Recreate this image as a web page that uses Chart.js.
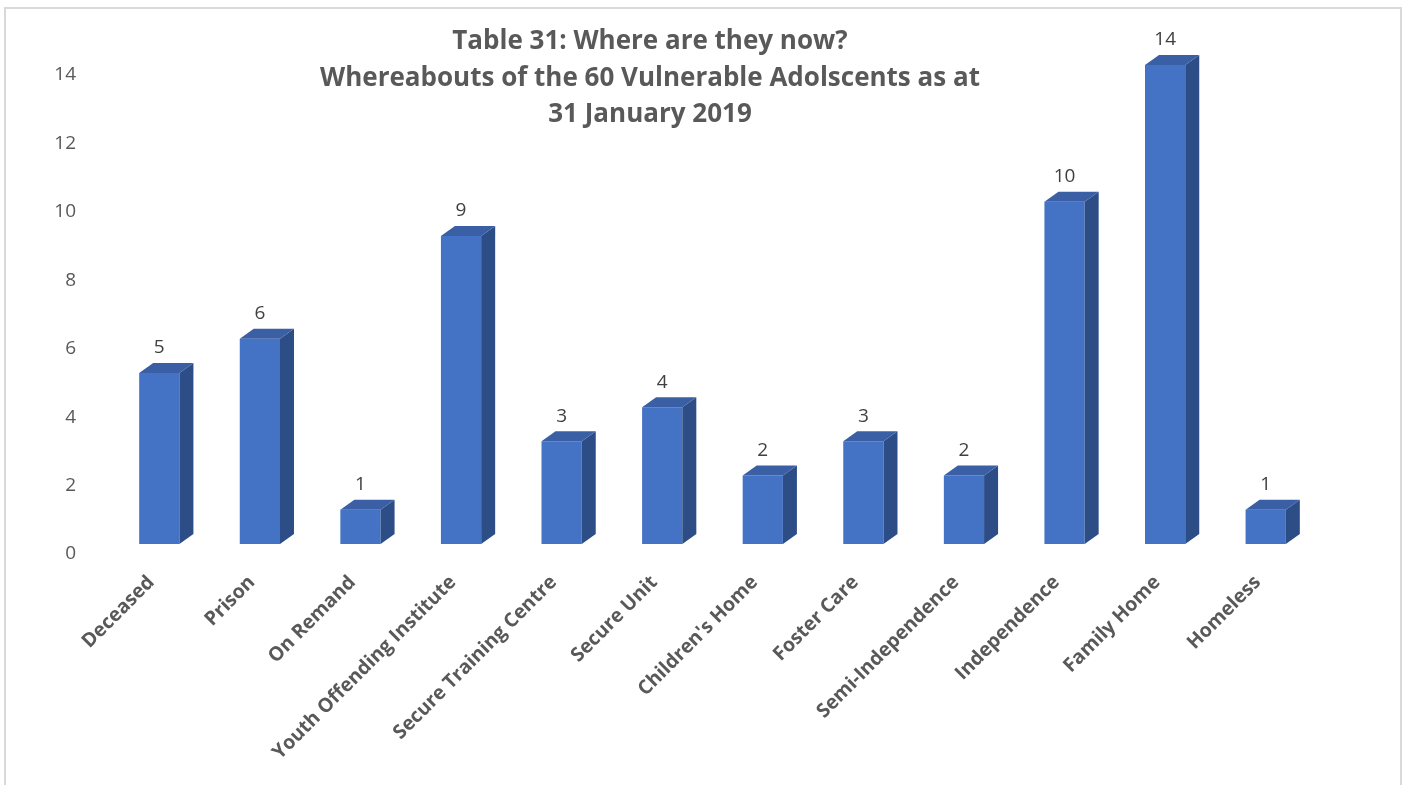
<!DOCTYPE html>
<html>
<head>
<meta charset="utf-8">
<script src="https://cdn.jsdelivr.net/npm/chart.js@4.4.1/dist/chart.umd.min.js"></script>
<style>
  body { margin: 0; background: #fff; }
  #wrap { position: relative; width: 1405px; height: 785px; overflow: hidden; }
  #grafica { position: absolute; left: 0; top: 0; }
  #titulo {
    position: absolute; left: 0; top: 21px; width: 1300px;
    text-align: center; font: bold 26px "Open Sans", sans-serif;
    line-height: 36.5px; color: #595959;
  }
</style>
</head>
<body>
<div id="wrap">
  <canvas id="grafica" width="1405" height="785"></canvas>
  <div id="titulo">Table 31: Where are they now?<br>Whereabouts of the 60 Vulnerable Adolscents as at<br>31 January 2019</div>
</div>
<script>
const categorias = [
  "Deceased",
  "Prison",
  "On Remand",
  "Youth Offending Institute",
  "Secure Training Centre",
  "Secure Unit",
  "Children's Home",
  "Foster Care",
  "Semi-Independence",
  "Independence",
  "Family Home",
  "Homeless",
];
const valores = [5, 6, 1, 9, 3, 4, 2, 3, 2, 10, 14, 1];
const ticksY = [0, 2, 4, 6, 8, 10, 12, 14];

// depth of the fake 3D box drawn behind each bar
const fondo = { dx: 14, dy: 10 };

// light grey frame around the whole chart
const marco = {
  id: "marco",
  beforeDraw(chart) {
    const ctx = chart.ctx;
    ctx.save();
    ctx.strokeStyle = "#D9D9D9";
    ctx.lineWidth = 2;
    ctx.strokeRect(5, 8, 1396, 820);
    ctx.restore();
  },
};

// side + top faces and the value labels
const barras3d = {
  id: "barras3d",
  afterDatasetsDraw(chart) {
    const ctx = chart.ctx;
    const meta = chart.getDatasetMeta(0);
    ctx.save();
    meta.data.forEach((bar, i) => {
      const izq = bar.x - bar.width / 2;
      const der = bar.x + bar.width / 2;
      const arriba = bar.y;
      const abajo = bar.base;

      ctx.fillStyle = "#2D4D86";
      ctx.beginPath();
      ctx.moveTo(der, arriba);
      ctx.lineTo(der + fondo.dx, arriba - fondo.dy);
      ctx.lineTo(der + fondo.dx, abajo - fondo.dy);
      ctx.lineTo(der, abajo);
      ctx.closePath();
      ctx.fill();

      ctx.fillStyle = "#3A5FA4";
      ctx.beginPath();
      ctx.moveTo(izq, arriba);
      ctx.lineTo(izq + fondo.dx, arriba - fondo.dy);
      ctx.lineTo(der + fondo.dx, arriba - fondo.dy);
      ctx.lineTo(der, arriba);
      ctx.closePath();
      ctx.fill();

      ctx.fillStyle = "#404040";
      ctx.font = '19px "Open Sans"';
      ctx.textAlign = "center";
      ctx.textBaseline = "middle";
      ctx.fillText(String(valores[i]), bar.x, arriba - 25);
    });
    ctx.restore();
  },
};

const ctx = document.getElementById("grafica");
const myChart = new Chart(ctx, {
  type: "bar",
  data: {
    labels: categorias,
    datasets: [
      {
        data: valores,
        backgroundColor: "#4472C4",
        borderWidth: 0,
        barPercentage: 0.4,
        categoryPercentage: 1,
      },
    ],
  },
  options: {
    responsive: false,
    devicePixelRatio: 1,
    animation: false,
    layout: {
      padding: { top: 65, right: 89, left: 0, bottom: 0 },
    },
    scales: {
      x: {
        grid: { display: false, drawTicks: false },
        border: { display: false },
        ticks: {
          color: "#595959",
          font: { family: "Open Sans", size: 19.5, weight: "bold" },
          minRotation: 45,
          maxRotation: 45,
          autoSkip: false,
          padding: 27,
          labelOffset: -8,
        },
        afterFit: (s) => {
          s.height = 241;
        },
      },
      y: {
        min: ticksY[0],
        max: ticksY[ticksY.length - 1],
        grid: { display: false, drawTicks: false },
        border: { display: false },
        ticks: {
          color: "#595959",
          font: { family: "Open Sans", size: 19 },
          padding: 33,
          labelOffset: 10,
        },
        afterBuildTicks: (s) => {
          s.ticks = ticksY.map((v) => ({ value: v }));
        },
        afterFit: (s) => {
          s.width = 109;
        },
      },
    },
    plugins: {
      legend: { display: false },
      tooltip: { enabled: false },
    },
  },
  plugins: [marco, barras3d],
});
</script>
</body>
</html>
